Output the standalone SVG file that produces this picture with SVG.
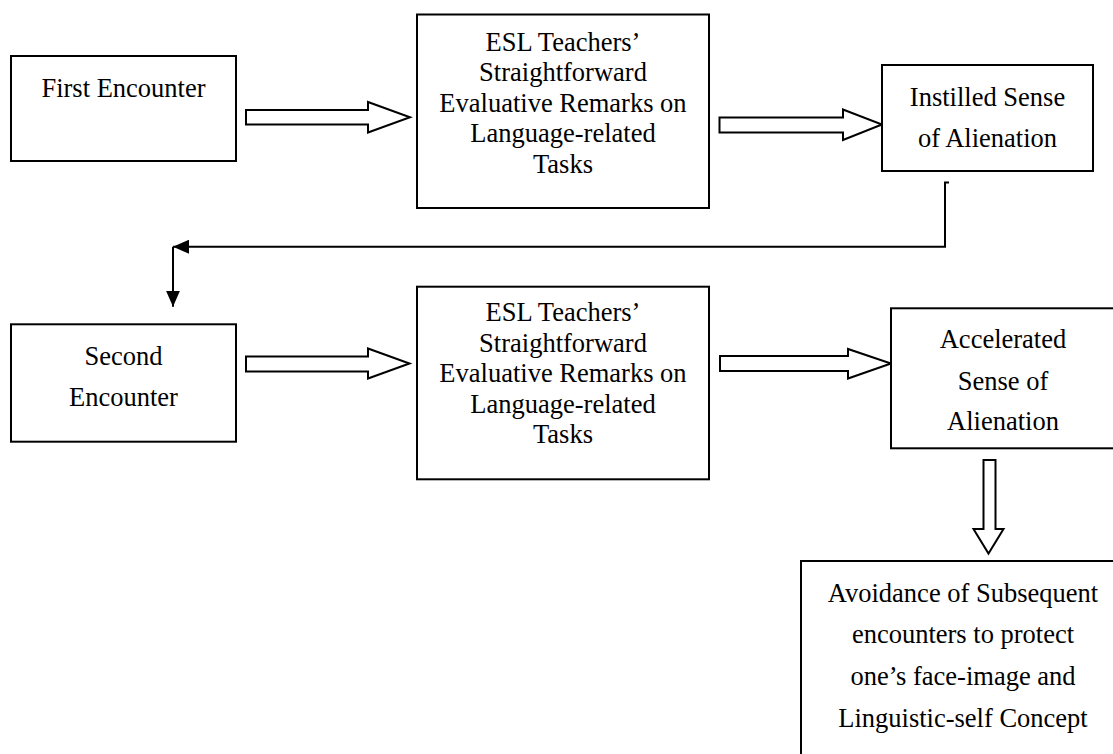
<svg xmlns="http://www.w3.org/2000/svg" width="1113" height="754" viewBox="0 0 1113 754">
<style>
.box{fill:#fff;stroke:#000;stroke-width:2}
.t{font-family:"Liberation Serif","Times New Roman",serif;font-size:26.5px;fill:#000;text-anchor:middle}
.hollow{fill:#fff;stroke:#000;stroke-width:2;stroke-linejoin:miter}
.line{fill:none;stroke:#000;stroke-width:2}
</style>
<defs>
<marker id="ah" viewBox="0 0 16 14" refX="16" refY="7" markerWidth="16" markerHeight="14" markerUnits="userSpaceOnUse" orient="auto">
<path d="M0,0 L16,7 L0,14 Z" fill="#000"/>
</marker>
</defs>
<rect width="1113" height="754" fill="#fff"/>
<g id="connectors">
<polygon class="hollow" points="246,110 368,110 368,102 410,117.3 368,132.5 368,124.5 246,124.5"/>
<polygon class="hollow" points="719.5,117.5 843,117.5 843,109.5 882,124.5 843,140 843,132.5 719.5,132.5"/>
<polygon class="hollow" points="246,356.5 368,356.5 368,348.5 409.5,363.5 368,378.5 368,371.5 246,371.5"/>
<polygon class="hollow" points="720,356 848,356 848,349 891,363.5 848,378.5 848,371 720,371"/>
<polygon class="hollow" points="983.5,460 995.5,460 995.5,529 1003.5,529 988.5,553.5 973.5,529 983.5,529"/>
<polyline class="line" points="949,182.5 945,182.5 945,246.7 173,246.7" marker-end="url(#ah)"/>
<polyline class="line" points="173,246.7 173,306.7" marker-end="url(#ah)"/>
</g>
<g id="first-encounter">
<rect class="box" x="11" y="56" width="225" height="105"/>
<text class="t" x="123.5" y="97">First Encounter</text>
</g>
<g id="esl-remarks-1">
<rect class="box" x="417" y="14.5" width="292" height="193.5"/>
<text class="t" x="563" y="50.5">ESL Teachers’</text>
<text class="t" x="563" y="81">Straightforward</text>
<text class="t" x="563" y="111.5">Evaluative Remarks on</text>
<text class="t" x="563" y="142">Language-related</text>
<text class="t" x="563" y="172.5">Tasks</text>
</g>
<g id="instilled">
<rect class="box" x="882" y="65" width="211" height="106"/>
<text class="t" x="987.5" y="106">Instilled Sense</text>
<text class="t" x="987.5" y="146.7">of Alienation</text>
</g>
<g id="second-encounter">
<rect class="box" x="11" y="324.3" width="225" height="117.4"/>
<text class="t" x="123.5" y="365">Second</text>
<text class="t" x="123.5" y="406">Encounter</text>
</g>
<g id="esl-remarks-2">
<rect class="box" x="417" y="286.7" width="292" height="192.6"/>
<text class="t" x="563" y="321">ESL Teachers’</text>
<text class="t" x="563" y="351.5">Straightforward</text>
<text class="t" x="563" y="382">Evaluative Remarks on</text>
<text class="t" x="563" y="412.5">Language-related</text>
<text class="t" x="563" y="443">Tasks</text>
</g>
<g id="accelerated">
<rect class="box" x="891" y="308.3" width="230" height="140"/>
<text class="t" x="1003" y="348.3">Accelerated</text>
<text class="t" x="1003" y="390">Sense of</text>
<text class="t" x="1003" y="430">Alienation</text>
</g>
<g id="avoidance">
<rect class="box" x="801" y="561" width="330" height="210"/>
<text class="t" x="963" y="601.7">Avoidance of Subsequent</text>
<text class="t" x="963" y="643">encounters to protect</text>
<text class="t" x="963" y="685">one’s face-image and</text>
<text class="t" x="963" y="726.7">Linguistic-self Concept</text>
</g>
</svg>
